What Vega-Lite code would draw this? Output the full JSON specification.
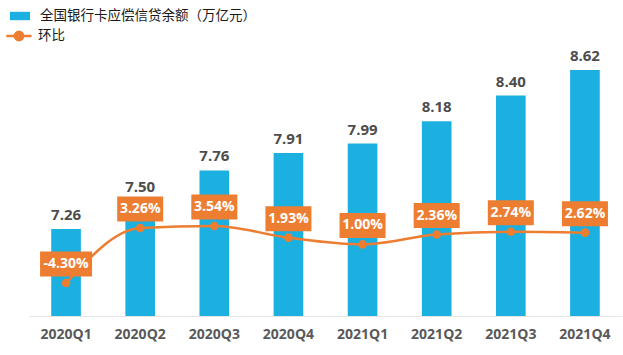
{
  "$schema": "https://vega.github.io/schema/vega-lite/v6.json",
  "width": 593,
  "height": 266,
  "autosize": {"type": "none"},
  "padding": {"left": 29, "top": 50, "right": 1, "bottom": 39},
  "background": "white",
  "config": {"view": {"stroke": null}, "font": "Open Sans"},
  "data": {
    "values": [
      {"q": "2020Q1", "v": 7.26, "p": -4.30, "pl": "-4.30%"},
      {"q": "2020Q2", "v": 7.50, "p": 3.26, "pl": "3.26%"},
      {"q": "2020Q3", "v": 7.76, "p": 3.54, "pl": "3.54%"},
      {"q": "2020Q4", "v": 7.91, "p": 1.93, "pl": "1.93%"},
      {"q": "2021Q1", "v": 7.99, "p": 1.00, "pl": "1.00%"},
      {"q": "2021Q2", "v": 8.18, "p": 2.36, "pl": "2.36%"},
      {"q": "2021Q3", "v": 8.40, "p": 2.74, "pl": "2.74%"},
      {"q": "2021Q4", "v": 8.62, "p": 2.62, "pl": "2.62%"}
    ]
  },
  "encoding": {
    "x": {
      "field": "q",
      "type": "nominal",
      "sort": null,
      "scale": {"paddingInner": 0.6, "paddingOuter": 0.3},
      "axis": {
        "title": null,
        "labelAngle": 0,
        "ticks": false,
        "domainColor": "#e6e6e6",
        "domainWidth": 1,
        "labelFontSize": 14,
        "labelFontWeight": "bold",
        "labelColor": "#595959",
        "labelFont": "Open Sans",
        "labelPadding": 11
      }
    }
  },
  "layer": [
    {
      "encoding": {
        "y": {"field": "v", "type": "quantitative", "scale": {"domain": [6.516, 8.79], "zero": false, "nice": false}, "axis": null}
      },
      "layer": [
        {
          "mark": {"type": "bar", "clip": true},
          "encoding": {
            "color": {
              "datum": "全国银行卡应偿信贷余额（万亿元）",
              "scale": {"range": ["#1cb0e0"]},
              "legend": {
                "title": null,
                "orient": "none",
                "legendX": -20,
                "legendY": -45,
                "symbolType": "M-1,-0.42H1V0.42H-1Z",
                "symbolSize": 400,
                "labelFont": "Noto Sans CJK SC",
                "labelFontSize": 13.5,
                "labelColor": "#1a1a1a",
                "labelOffset": 9,
                "labelLimit": 400,
                "padding": 0
              }
            }
          }
        },
        {
          "mark": {"type": "text", "baseline": "bottom", "dy": -6, "fontSize": 15, "fontWeight": "bold", "color": "#4d4d4d", "font": "Open Sans"},
          "encoding": {"text": {"field": "v", "type": "quantitative", "format": ".2f"}}
        }
      ]
    },
    {
      "encoding": {
        "y": {"field": "p", "type": "quantitative", "scale": {"domain": [-8.84, 27.74], "zero": false, "nice": false}, "axis": null}
      },
      "layer": [
        {
          "mark": {"type": "line", "strokeWidth": 2.5, "interpolate": "monotone"},
          "encoding": {
            "stroke": {
              "datum": "环比",
              "scale": {"range": ["#ed7d31"]},
              "legend": {
                "title": null,
                "orient": "none",
                "legendX": -22,
                "legendY": -26,
                "symbolType": "M-1.2,0H1.2M0.4,0A0.4,0.4,0,1,1,-0.4,0A0.4,0.4,0,1,1,0.4,0",
                "symbolSize": 441,
                "symbolFillColor": "#ed7d31",
                "symbolStrokeWidth": 2.5,
                "labelFont": "Noto Sans CJK SC",
                "labelFontSize": 13.5,
                "labelColor": "#1a1a1a",
                "labelOffset": 7,
                "padding": 0
              }
            }
          }
        },
        {
          "mark": {"type": "point", "filled": true, "size": 75, "opacity": 1, "color": "#ed7d31"}
        },
        {
          "transform": [{"filter": "datum.p >= 0"}],
          "mark": {"type": "rect", "width": 46, "height": 25, "yOffset": -19, "color": "#ed7d31"}
        },
        {
          "transform": [{"filter": "datum.p < 0"}],
          "mark": {"type": "rect", "width": 52, "height": 25, "yOffset": -19, "color": "#ed7d31"}
        },
        {
          "mark": {"type": "text", "baseline": "middle", "dy": -19, "fontSize": 14, "fontWeight": "bold", "color": "white", "font": "Open Sans"},
          "encoding": {"text": {"field": "pl", "type": "nominal"}}
        }
      ]
    }
  ],
  "resolve": {"scale": {"y": "independent"}}
}
